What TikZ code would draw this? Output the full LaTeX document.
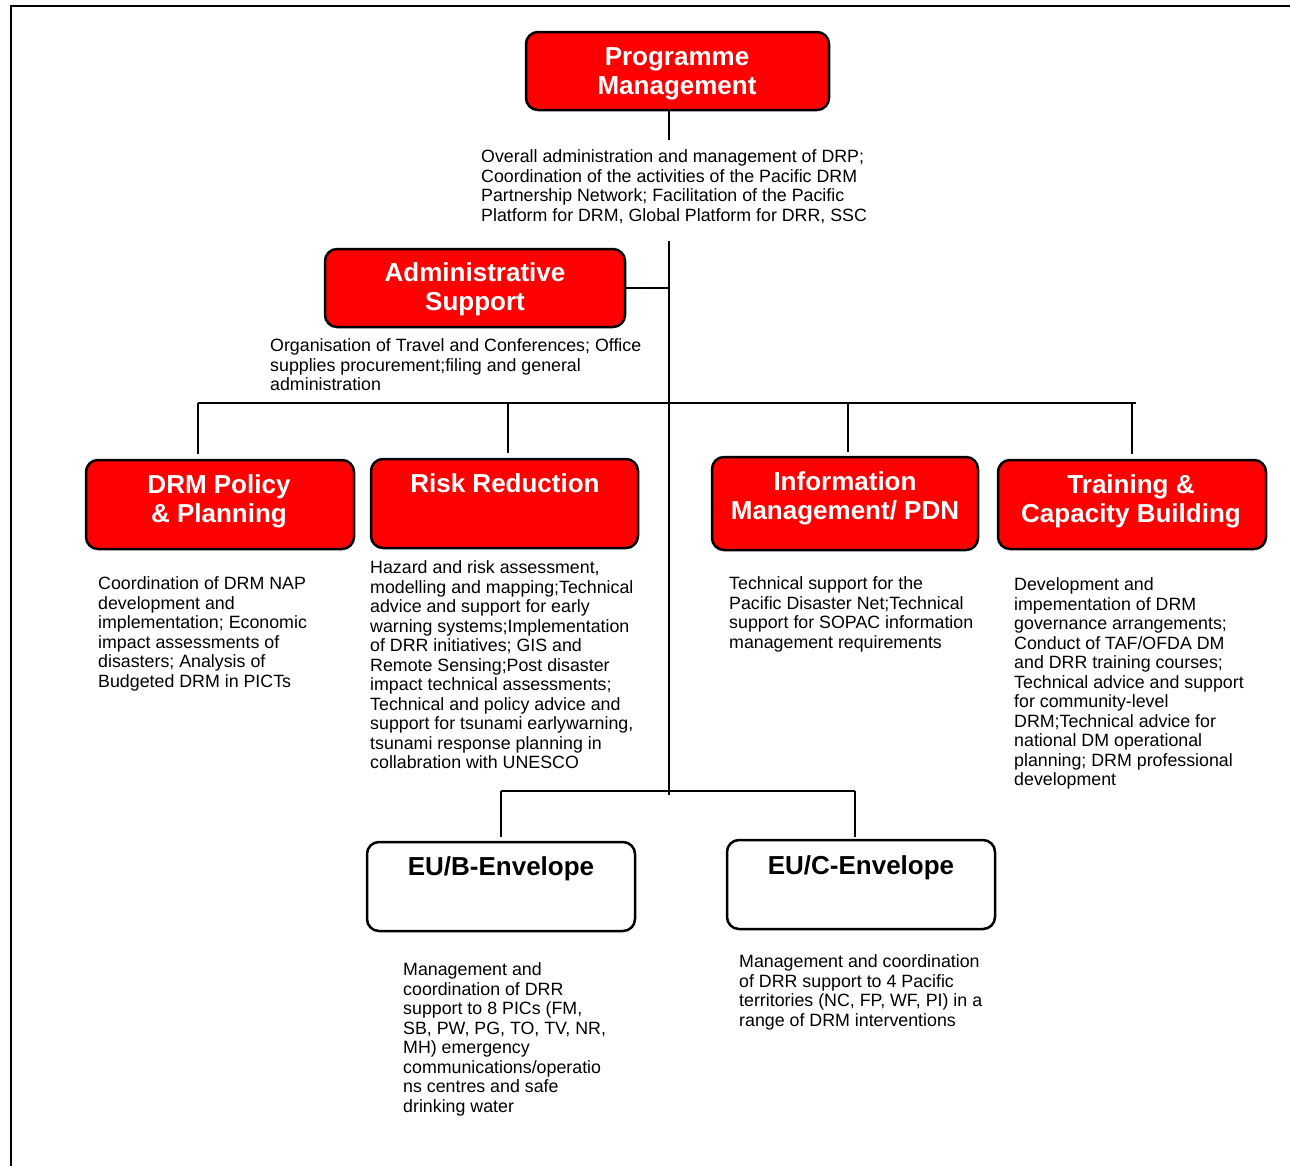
\documentclass[tikz,border=0pt]{standalone}
\usepackage{fontspec}
\setmainfont{Liberation Sans}
\definecolor{boxred}{RGB}{255,0,0}
\begin{document}
\begin{tikzpicture}[x=1pt,y=-1pt,
  boxbase/.style={draw=black, line width=2.5pt, rounded corners=12pt, inner sep=0pt},
  redbox/.style={boxbase, fill=boxred},
  whitebox/.style={boxbase, fill=white},
  headw/.style={font=\fontsize{26}{29}\selectfont\bfseries, text=white, align=center, inner sep=0pt},
  headb/.style={font=\fontsize{26}{29}\selectfont\bfseries, text=black, align=center, inner sep=0pt},
  desc/.style={font=\fontsize{17.8}{19.5}\selectfont, align=left, anchor=north west, inner sep=0pt},
  conn/.style={draw=black, line width=2pt}]
\useasboundingbox (0,0) rectangle (1290,1165);
\fill[white] (0,0) rectangle (1290,1165);
% frame
\draw[line width=2.5pt] (11,1170) -- (11,6) -- (1295,6);

% boxes
\node[redbox, minimum width=303pt, minimum height=78pt] (pm) at (677.5,71) {};
\node[redbox, minimum width=300pt, minimum height=78pt] (adm) at (475,288) {};
\node[redbox, minimum width=268pt, minimum height=89pt] (drm) at (220,504.5) {};
\node[redbox, minimum width=267pt, minimum height=89pt] (rr) at (504.5,503.5) {};
\node[redbox, minimum width=266pt, minimum height=93pt] (im) at (845,503.5) {};
\node[redbox, minimum width=268pt, minimum height=89pt] (tcb) at (1132,504.5) {};
\node[whitebox, minimum width=268pt, minimum height=89pt] (eub) at (501,886.5) {};
\node[whitebox, minimum width=268pt, minimum height=89pt] (euc) at (861,884.5) {};

% headings
\node[headw] (pmT) at (677,73.5) {Programme\\Management};
\node[headw] (admT) at (475,289.5) {Administrative\\Support};
\node[headw] (drmT) at (219,501.5) {DRM Policy\\\& Planning};
\node[headw] (rrT) at (505,483.5) {Risk Reduction};
\node[headw] (imT) at (845,498.5) {Information\\Management/ PDN};
\node[headw] (tcbT) at (1131,501.5) {Training \&\\Capacity Building};
\node[headb] (eubT) at (501,868.5) {EU/B-Envelope};
\node[headb] (eucT) at (861,867.5) {EU/C-Envelope};

% descriptions
\node[desc] (pmD) at (481,149.5) {Overall administration and management of DRP;\\Coordination of the activities of the Pacific DRM\\Partnership Network; Facilitation of the Pacific\\Platform for DRM, Global Platform for DRR, SSC};
\node[desc] (admD) at (270,338.5) {Organisation of Travel and Conferences; Office\\supplies procurement;filing and general\\administration};
\node[desc] (drmD) at (98,576.5) {Coordination of DRM NAP\\development and\\implementation; Economic\\impact assessments of\\disasters; Analysis of\\Budgeted DRM in PICTs};
\node[desc] (rrD) at (370,560.5) {Hazard and risk assessment,\\modelling and mapping;Technical\\advice and support for early\\warning systems;Implementation\\of DRR initiatives; GIS and\\Remote Sensing;Post disaster\\impact technical assessments;\\Technical and policy advice and\\support for tsunami earlywarning,\\tsunami response planning in\\collabration with UNESCO};
\node[desc] (imD) at (729,576.5) {Technical support for the\\Pacific Disaster Net;Technical\\support for SOPAC information\\management requirements};
\node[desc] (tcbD) at (1014,577.5) {Development and\\impementation of DRM\\governance arrangements;\\Conduct of TAF/OFDA DM\\and DRR training courses;\\Technical advice and support\\for community-level\\DRM;Technical advice for\\national DM operational\\planning; DRM professional\\development};
\node[desc] (eubD) at (403,962.5) {Management and\\coordination of DRR\\support to 8 PICs (FM,\\SB, PW, PG, TO, TV, NR,\\MH) emergency\\communications/operatio\\ns centres and safe\\drinking water};
\node[desc] (eucD) at (739,954.5) {Management and coordination\\of DRR support to 4 Pacific\\territories (NC, FP, WF, PI) in a\\range of DRM interventions};

% connectors
\coordinate (pmStub) at (669,140);
\coordinate (tTop) at (669,241);
\coordinate (tBot) at (669,795);
\draw[conn] (pmStub |- pm.south) -- (pmStub);
\draw[conn] (tTop) -- (tBot);
\draw[conn] (adm.east) -- (adm.east -| tTop);
\coordinate (busL) at (198,403);
\coordinate (busR) at (1136,403);
\draw[conn] (busL) -- (busR);
\coordinate (d2) at (508,403);
\coordinate (d3) at (848,403);
\coordinate (d4) at (1132,403);
\draw[conn, shorten >=5pt] (busL) -- (busL |- drm.north);
\draw[conn, shorten >=5pt] (d2) -- (d2 |- rr.north);
\draw[conn, shorten >=4pt] (d3) -- (d3 |- im.north);
\draw[conn, shorten >=5pt] (d4) -- (d4 |- tcb.north);
\coordinate (bbL) at (501,791);
\coordinate (bbR) at (855,791);
\draw[conn] (bbL) -- (bbR);
\draw[conn, shorten >=4pt] (bbL) -- (bbL |- eub.north);
\draw[conn, shorten >=2pt] (bbR) -- (bbR |- euc.north);
\end{tikzpicture}
\end{document}
